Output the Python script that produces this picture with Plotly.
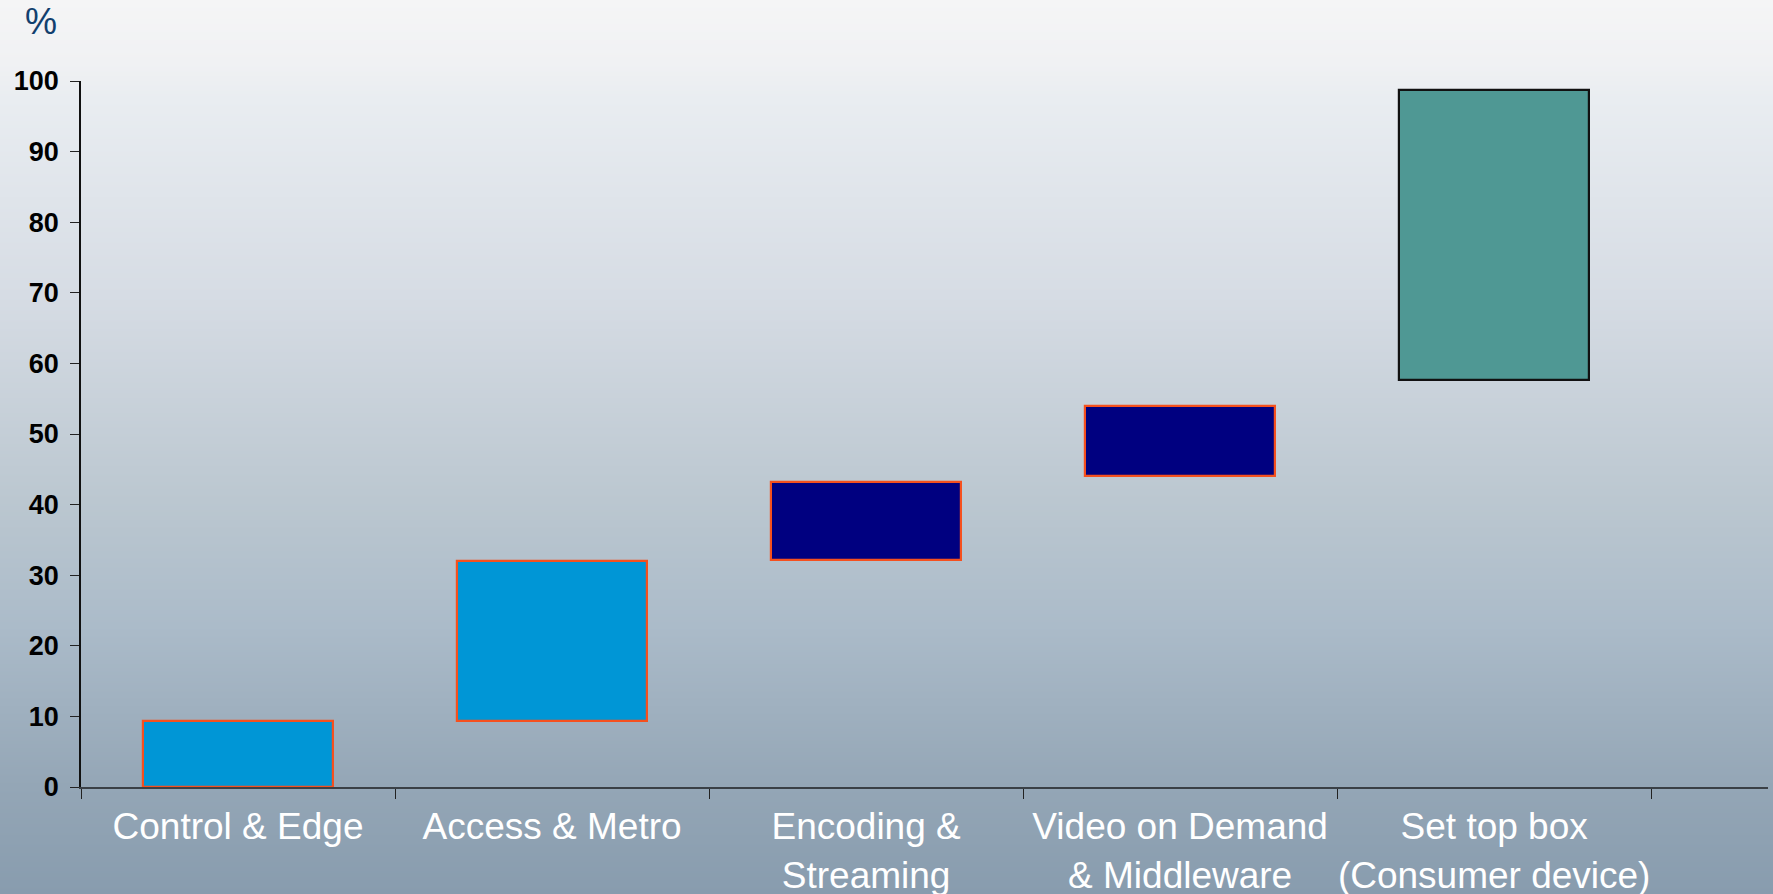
import base64
import struct
import zlib

import plotly.graph_objects as go

# ---------------- data ----------------
categories = [
    "Control & Edge",
    "Access & Metro",
    "Encoding &<br>Streaming",
    "Video on Demand<br>& Middleware",
    "Set top box<br>(Consumer device)",
]
bar_base = [0.0, 9.3, 32.2, 44.0, 57.7]
bar_top = [9.3, 32.0, 43.2, 54.0, 98.7]
y_tick_values = [0, 10, 20, 30, 40, 50, 60, 70, 80, 90, 100]
y_title = "%"

# ---------------- styles ----------------
fill_colors = ["#0096D6", "#0096D6", "#000080", "#000080", "#4F9894"]
line_colors = ["#F5501E", "#F5501E", "#F5501E", "#F5501E", "#111111"]
FONT = "Liberation Sans, Arial, Helvetica, sans-serif"

W, H = 1773, 894
ML, MR, MT, MB = 81, 5, 81, 107


def gradient_png(stops, height, width=4):
    """Build a vertical-gradient PNG as a data URI."""
    rows = b""
    for r in range(height):
        f = r / (height - 1)
        for i in range(len(stops) - 1):
            f0, c0 = stops[i]
            f1, c1 = stops[i + 1]
            if f0 <= f <= f1:
                t = 0 if f1 == f0 else (f - f0) / (f1 - f0)
                c = tuple(int(round(a + (b - a) * t)) for a, b in zip(c0, c1))
                break
        rows += b"\x00" + bytes(c) * width

    def chunk(tag, data):
        return (struct.pack(">I", len(data)) + tag + data
                + struct.pack(">I", zlib.crc32(tag + data) & 0xFFFFFFFF))

    png = b"\x89PNG\r\n\x1a\n"
    png += chunk(b"IHDR", struct.pack(">IIBBBBB", width, height, 8, 2, 0, 0, 0))
    png += chunk(b"IDAT", zlib.compress(rows, 9))
    png += chunk(b"IEND", b"")
    return "data:image/png;base64," + base64.b64encode(png).decode()


bg_stops = [
    (0.00, (245, 245, 246)),
    (0.07, (240, 241, 243)),
    (0.11, (233, 237, 241)),
    (0.33, (214, 220, 228)),
    (0.56, (187, 199, 208)),
    (0.70, (171, 187, 201)),
    (0.88, (148, 166, 182)),
    (1.00, (136, 156, 174)),
]

xpos = list(range(len(categories)))
heights = [t - b for t, b in zip(bar_top, bar_base)]

fig = go.Figure()
fig.add_trace(
    go.Bar(
        x=xpos,
        y=heights,
        base=bar_base,
        width=0.605,
        marker=dict(color=fill_colors, line=dict(color=line_colors, width=2.2)),
        hoverinfo="skip",
        showlegend=False,
    )
)

pw = W - ML - MR
ph = H - MT - MB
fig.add_layout_image(
    dict(
        source=gradient_png(bg_stops, H),
        xref="paper", yref="paper",
        x=-ML / pw, y=1 + MT / ph,
        sizex=W / pw, sizey=H / ph,
        xanchor="left", yanchor="top",
        sizing="stretch", layer="below",
    )
)

boundaries = [p - 0.5 for p in xpos] + [xpos[-1] + 0.5]

fig.update_layout(
    width=W,
    height=H,
    autosize=False,
    margin=dict(l=ML, r=MR, t=MT, b=MB, pad=0, autoexpand=False),
    paper_bgcolor="#8a9cae",
    plot_bgcolor="rgba(0,0,0,0)",
    font=dict(family=FONT),
    bargap=0,
    xaxis=dict(
        range=[-0.5, 4.872],
        tickmode="array",
        tickvals=xpos,
        ticktext=categories,
        ticks="",
        tickfont=dict(family=FONT, size=37, color="white"),
        ticklabelstandoff=6,
        automargin=False,
        showline=True,
        linecolor="#3a4046",
        linewidth=2,
        showgrid=False,
        zeroline=False,
        minor=dict(
            tickmode="array",
            tickvals=boundaries,
            ticks="outside",
            ticklen=10,
            tickwidth=1.2,
            tickcolor="#222222",
            showgrid=False,
        ),
        fixedrange=True,
    ),
    yaxis=dict(
        range=[0, 100],
        tickmode="array",
        tickvals=y_tick_values,
        ticks="outside",
        ticklen=9,
        tickwidth=1.2,
        tickcolor="#222222",
        tickfont=dict(family=FONT, size=27, color="black", weight="bold"),
        ticklabelstandoff=6,
        automargin=False,
        showline=True,
        linecolor="#111111",
        linewidth=1.5,
        showgrid=False,
        zeroline=False,
        fixedrange=True,
    ),
    annotations=[
        dict(
            text=y_title,
            xref="paper", yref="paper",
            x=-40 / pw, y=1 + 60 / ph,
            xanchor="center", yanchor="middle",
            showarrow=False,
            font=dict(family=FONT, size=36, color="#12406E"),
        )
    ],
)

page_fix = (
    "var gd=document.getElementById('{plot_id}');"
    "document.documentElement.style.margin='0';"
    "document.body.style.margin='0';"
    "document.documentElement.style.overflow='hidden';"
    "document.body.style.overflow='hidden';"
    "gd.style.position='fixed';gd.style.left='0px';gd.style.top='0px';"
    "gd.style.width='1773px';gd.style.height='894px';"
)

fig.write_html(
    "out.html",
    config=dict(displayModeBar=False, responsive=False),
    post_script=page_fix,
)
